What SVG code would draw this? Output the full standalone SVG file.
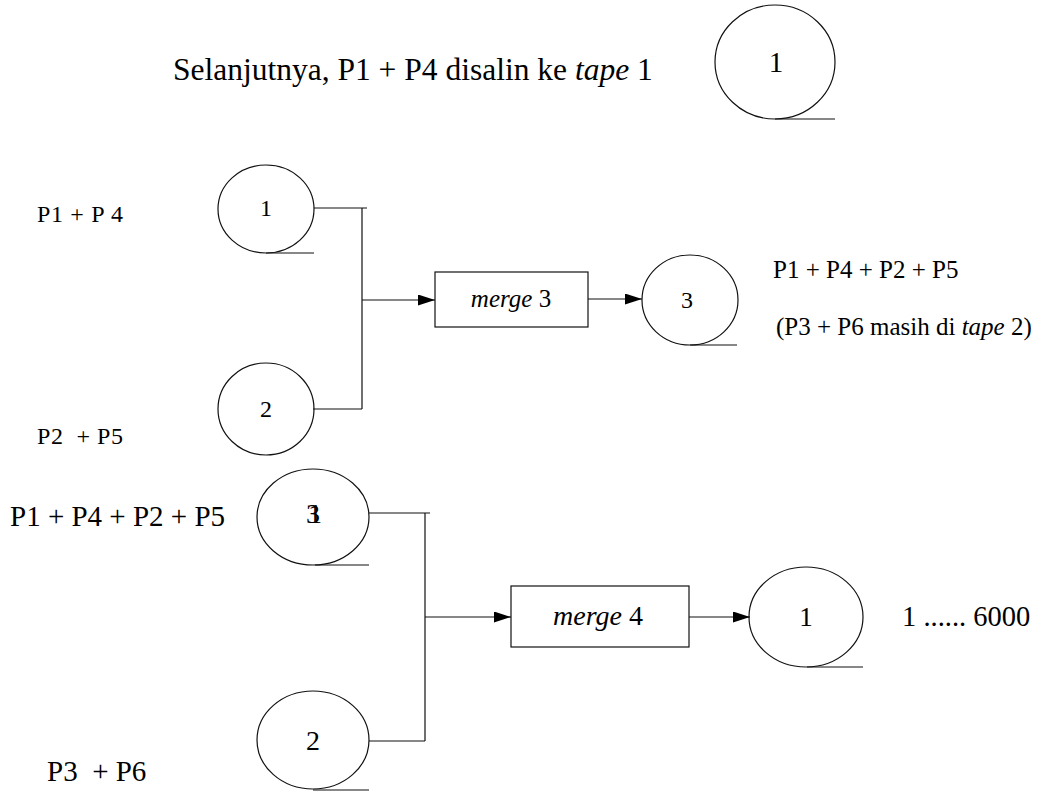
<svg xmlns="http://www.w3.org/2000/svg" width="1042" height="792" viewBox="0 0 1042 792">
<style>
text{fill:#000}
.tape{fill:none;stroke:#111;stroke-width:1.2}
.box{fill:#fff;stroke:#111;stroke-width:1.2}
.c{fill:none;stroke:#111;stroke-width:1.2}
.m{text-anchor:middle}
</style>
<defs>
<marker id="ah" markerUnits="userSpaceOnUse" markerWidth="18" markerHeight="12" refX="17" refY="5.5" orient="auto">
<path d="M0,0 L17,5.5 L0,11 z" fill="#000"/>
</marker>
</defs>
<rect width="1042" height="792" fill="#fff"/>
<g font-family="'Liberation Serif', 'Times New Roman', serif">
<g id="labels">
<text x="173" y="80" font-size="31.5">Selanjutnya, P1 + P4 disalin ke <tspan font-style="italic">tape</tspan> 1</text>
<text x="37" y="222" font-size="24" textLength="86">P1 + P 4</text>
<text x="37" y="444" font-size="24" textLength="86" xml:space="preserve">P2  + P5</text>
<text x="773" y="278" font-size="25">P1 + P4 + P2 + P5</text>
<text x="776" y="335" font-size="25">(P3 + P6 masih di <tspan font-style="italic">tape</tspan> 2)</text>
<text x="10" y="526" font-size="29">P1 + P4 + P2 + P5</text>
<text x="902" y="626" font-size="28.5">1 ...... 6000</text>
<text x="47" y="781" font-size="29" xml:space="preserve">P3  + P6</text>
</g>
<g id="tape-top1">
<ellipse class="tape" cx="775" cy="62" rx="60" ry="57"/>
<line class="tape" x1="775" y1="119" x2="835" y2="119"/>
<text class="m" x="776" y="72" font-size="29">1</text>
</g>
<g id="tape-m1">
<ellipse class="tape" cx="266" cy="209" rx="48" ry="44"/>
<line class="tape" x1="266" y1="253" x2="314" y2="253"/>
<text class="m" x="266" y="216" font-size="24">1</text>
</g>
<g id="tape-m2">
<ellipse class="tape" cx="266" cy="409" rx="48" ry="46"/>
<text class="m" x="266" y="417" font-size="24">2</text>
</g>
<g id="merge3">
<rect class="box" x="435" y="272" width="153" height="55"/>
<text class="m" x="511" y="307" font-size="25"><tspan font-style="italic">merge</tspan> 3</text>
</g>
<g id="tape-m3">
<ellipse class="tape" cx="690" cy="300" rx="48" ry="45"/>
<line class="tape" x1="690" y1="345" x2="737" y2="345"/>
<text class="m" x="687" y="308" font-size="24">3</text>
</g>
<g id="tape-b3">
<ellipse class="tape" cx="313" cy="517" rx="56" ry="48"/>
<line class="tape" x1="315" y1="565" x2="369" y2="565"/>
<text class="m" x="313" y="523" font-size="28">3</text>
<text class="m" x="315" y="523" font-size="28">1</text>
</g>
<g id="tape-b2">
<ellipse class="tape" cx="313" cy="740" rx="56" ry="49"/>
<line class="tape" x1="313" y1="790" x2="369" y2="790"/>
<text class="m" x="313" y="750" font-size="28">2</text>
</g>
<g id="merge4">
<rect class="box" x="511" y="586" width="178" height="61"/>
<text class="m" x="598" y="625" font-size="28"><tspan font-style="italic">merge</tspan> 4</text>
</g>
<g id="tape-b1">
<ellipse class="tape" cx="806" cy="617" rx="57" ry="50"/>
<line class="tape" x1="807" y1="667" x2="863" y2="667"/>
<text class="m" x="806" y="626" font-size="27">1</text>
</g>
</g>
<g id="connectors">
<path class="c" d="M314 208 H367 M362 208 V409 M313 409 H362"/>
<path class="c" d="M362 300 H435" marker-end="url(#ah)"/>
<path class="c" d="M588 299 H642" marker-end="url(#ah)"/>
<path class="c" d="M369 513 H430 M425 513 V741 M369 741 H425"/>
<path class="c" d="M425 617 H511" marker-end="url(#ah)"/>
<path class="c" d="M689 617 H750" marker-end="url(#ah)"/>
</g>
</svg>
